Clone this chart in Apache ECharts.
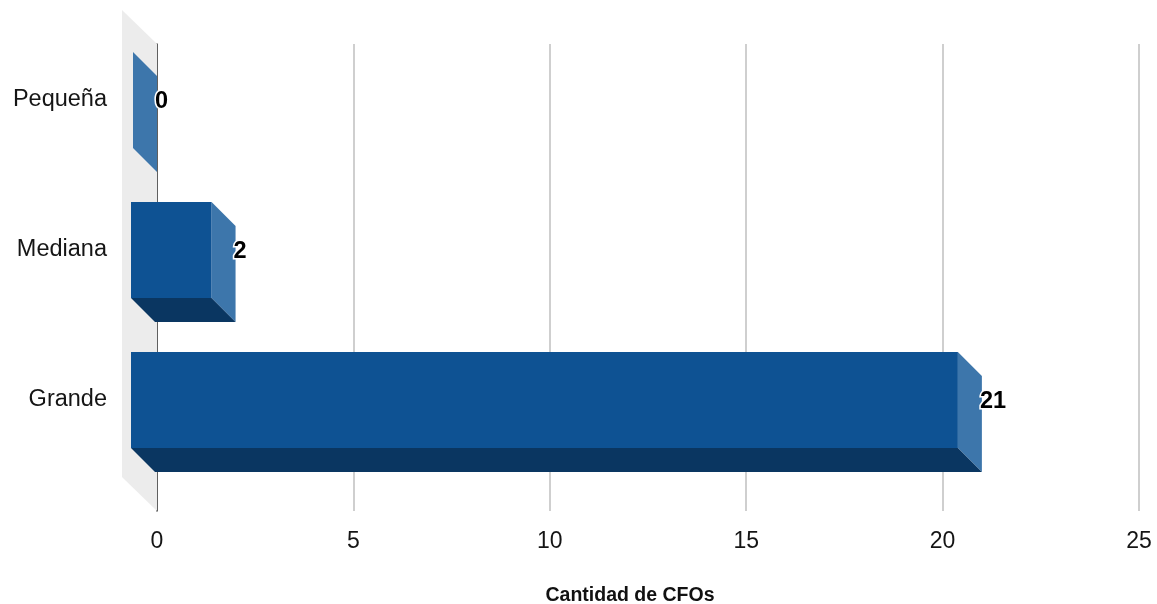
<!DOCTYPE html>
<html>
<head>
<meta charset="utf-8">
<script src="https://cdn.jsdelivr.net/npm/echarts@6/dist/echarts.min.js"></script>
<style>
  html, body { margin: 0; padding: 0; background: #fff; }
  #chart { width: 1157px; height: 604px; }
</style>
</head>
<body>
<div id="chart"></div>
<script>
// Company size categories and number of CFOs in each
const categories = ['Pequeña', 'Mediana', 'Grande'];
const values = [0, 2, 21];
const xTicks = [0, 5, 10, 15, 20, 25];
const axisTitle = 'Cantidad de CFOs';

// 3D look: pixel depth of the bars and of the left wall
const BAR_DX = 24, BAR_DY = 24;
const WALL_DX = 35, WALL_DY = 34;
const FONT = '"Liberation Sans", Arial, Helvetica, sans-serif';

const COLORS = {
  front: '#0e5293',
  side: '#3d76ab',
  bottom: '#0a3661',
  wall: '#ececec',
  grid: '#cfcfcf',
  axis: '#3a3a3a',
  text: '#151515'
};

const xMin = xTicks[0];
const xMax = xTicks[xTicks.length - 1];
const xStep = xTicks[1] - xTicks[0];

const chart = echarts.init(document.getElementById('chart'), null, { renderer: 'canvas' });

const option = {
  backgroundColor: '#fff',
  animation: false,
  grid: [
    // back plane: gridlines, zero line, tick labels
    { left: 157, right: 18, top: 44, bottom: 93, outerBoundsMode: 'none' },
    // front plane: bars and category labels
    { left: 157, right: 18, top: 25, height: 450, outerBoundsMode: 'none' }
  ],
  xAxis: [
    {
      gridIndex: 0, type: 'value', min: xMin, max: xMax, interval: xStep,
      axisLine: { show: false }, axisTick: { show: false },
      splitLine: { show: true, lineStyle: { color: COLORS.grid, width: 2 } },
      axisLabel: { fontSize: 23, color: COLORS.text, margin: 19, fontFamily: FONT },
      name: axisTitle, nameLocation: 'middle', nameGap: 75,
      nameTextStyle: { fontSize: 19.5, fontWeight: 'bold', color: '#111', fontFamily: FONT, padding: [0, 36, 0, 0] }
    },
    {
      gridIndex: 1, type: 'value', min: xMin, max: xMax, interval: xStep, show: false
    }
  ],
  yAxis: [
    {
      gridIndex: 0, type: 'value', min: 0, max: 1,
      axisLine: { show: true, lineStyle: { color: COLORS.axis, width: 1.5 } },
      axisTick: { show: false }, axisLabel: { show: false }, splitLine: { show: false }
    },
    {
      gridIndex: 1, type: 'category', data: categories, inverse: true,
      axisLine: { show: false }, axisTick: { show: false }, splitLine: { show: false },
      axisLabel: { fontSize: 23.5, color: COLORS.text, margin: 50, fontFamily: FONT }
    }
  ],
  series: [
    {
      // left wall of the 3D box
      type: 'custom', xAxisIndex: 0, yAxisIndex: 0, z: 1, silent: true,
      data: [[0, 0]],
      renderItem: function (params, api) {
        const bottom = api.coord([xMin, 0]);
        const top = api.coord([xMin, 1]);
        return {
          type: 'polygon',
          shape: { points: [
            [top[0] - WALL_DX, top[1] - WALL_DY],
            [top[0], top[1]],
            [bottom[0], bottom[1]],
            [bottom[0] - WALL_DX, bottom[1] - WALL_DY]
          ] },
          style: { fill: COLORS.wall }
        };
      }
    },
    {
      // 3D horizontal bars with value labels
      type: 'custom', xAxisIndex: 1, yAxisIndex: 1, z: 3,
      data: values.map((v, i) => [v, i]),
      encode: { x: 0, y: 1 },
      renderItem: function (params, api) {
        const v = api.value(0);
        const c = api.value(1);
        const p0 = api.coord([xMin, c]);
        const p1 = api.coord([v, c]);
        const band = api.size([0, 1])[1];
        const h = band * 0.64;
        const fx2 = p1[0] - BAR_DX;
        const fx1 = Math.min(p0[0] - BAR_DX - 2, fx2);
        const fy1 = p1[1] - h / 2;
        const fy2 = p1[1] + h / 2;
        const children = [
          {
            type: 'polygon',
            shape: { points: [[fx2, fy1], [fx2 + BAR_DX, fy1 + BAR_DY], [fx2 + BAR_DX, fy2 + BAR_DY], [fx2, fy2]] },
            style: { fill: COLORS.side }
          }
        ];
        if (v > 0) {
          children.push(
            {
              type: 'polygon',
              shape: { points: [[fx1, fy2], [fx2, fy2], [fx2 + BAR_DX, fy2 + BAR_DY], [fx1 + BAR_DX, fy2 + BAR_DY]] },
              style: { fill: COLORS.bottom }
            },
            {
              type: 'rect',
              shape: { x: fx1, y: fy1, width: fx2 - fx1, height: h },
              style: { fill: COLORS.front }
            }
          );
        }
        children.push({
          type: 'text',
          z2: 10,
          style: {
            text: String(v), x: p1[0] - 2, y: p1[1] + 1.5,
            align: 'left', verticalAlign: 'middle',
            font: 'bold 23.5px ' + FONT,
            fill: '#000', stroke: '#fff', lineWidth: 3
          }
        });
        return { type: 'group', children: children };
      }
    }
  ]
};

chart.setOption(option);
</script>
</body>
</html>
